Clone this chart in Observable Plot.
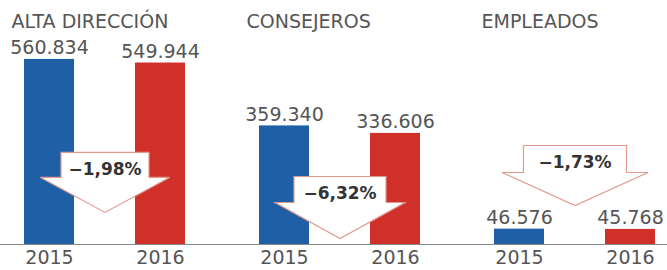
<!DOCTYPE html>
<html><head><meta charset="utf-8">
<script src="https://cdn.jsdelivr.net/npm/d3@7"></script>
<script src="https://cdn.jsdelivr.net/npm/@observablehq/plot@0.6"></script>
<style>body{margin:0;background:#fff}</style>
</head><body><div id="chart"></div>
<script>
const groups = ["ALTA DIRECCIÓN", "CONSEJEROS", "EMPLEADOS"];
const years = ["2015", "2016"];
const values2015 = [560834, 359340, 46576];
const values2016 = [549944, 336606, 45768];
const changes = ["−1,98%", "−6,32%", "−1,73%"];

const data = groups.flatMap((g, i) => [
  {group: g, year: years[0], value: values2015[i]},
  {group: g, year: years[1], value: values2016[i]}
]);
const fmt = d3.formatLocale({decimal: ",", thousands: ".", grouping: [3], currency: ["", "€"]}).format(",d");

// annotation layout (arrow top in data units, arrow shape in px)
const arrowTop = [279000, 206000, 300000];
const arrowShape = [
  {bw: 88, bh: 25, hw: 129, hh: 35},
  {bw: 92, bh: 26, hw: 130, hh: 36},
  {bw: 103, bh: 27, hw: 146, hh: 33}
];
function arrowSymbol({bw, bh, hw, hh}) {
  return {draw(ctx) {
    ctx.moveTo(-bw / 2, 0); ctx.lineTo(bw / 2, 0); ctx.lineTo(bw / 2, bh);
    ctx.lineTo(hw / 2, bh); ctx.lineTo(0, bh + hh); ctx.lineTo(-hw / 2, bh);
    ctx.lineTo(-bw / 2, bh); ctx.closePath();
  }};
}
const arrows = groups.map((g, i) => ({group: g, top: arrowTop[i], label: changes[i]}));

const font = "DejaVu Sans";
const textColor = "#555";

const chart = Plot.plot({
  width: 667,
  height: 270,
  marginTop: 46,
  marginBottom: 26,
  marginLeft: -14,
  marginRight: -26,
  style: {fontFamily: font, fontSize: "19px", color: textColor, background: "#fff"},
  fx: {domain: groups, axis: null, padding: 0},
  x: {domain: years, paddingInner: 0.55, paddingOuter: 0.33, tickSize: 0, tickPadding: 6, label: null},
  y: {domain: [0, 600000], axis: null},
  color: {domain: years, range: ["#1f5fa6", "#d0302a"]},
  marks: [
    Plot.barY(data, {fx: "group", x: "year", y: "value", fill: "year"}),
    Plot.ruleY([0], {stroke: "#8a8a8a", strokeWidth: 1.2}),
    Plot.text(data, {fx: "group", x: "year", y: "value", text: d => fmt(d.value), lineAnchor: "bottom", dy: -5, fontSize: 19, fill: textColor}),
    ...arrows.map((a, i) => Plot.dot([a], {fx: "group", y: "top", r: 1, symbol: arrowSymbol(arrowShape[i]), fill: "#fff", stroke: "#e39a8d", strokeWidth: 1.2})),
    Plot.text(arrows, {fx: "group", y: "top", text: "label", dy: 17, lineAnchor: "middle", fontSize: 17, fontWeight: "bold", fill: "#333"}),
    Plot.text(groups, {fx: d => d, text: d => d, frameAnchor: "top-left", textAnchor: "start", dx: 24, dy: -25, lineAnchor: "middle", fontSize: 19, fill: textColor})
  ]
});
document.getElementById("chart").appendChild(chart);
</script>
</body></html>
